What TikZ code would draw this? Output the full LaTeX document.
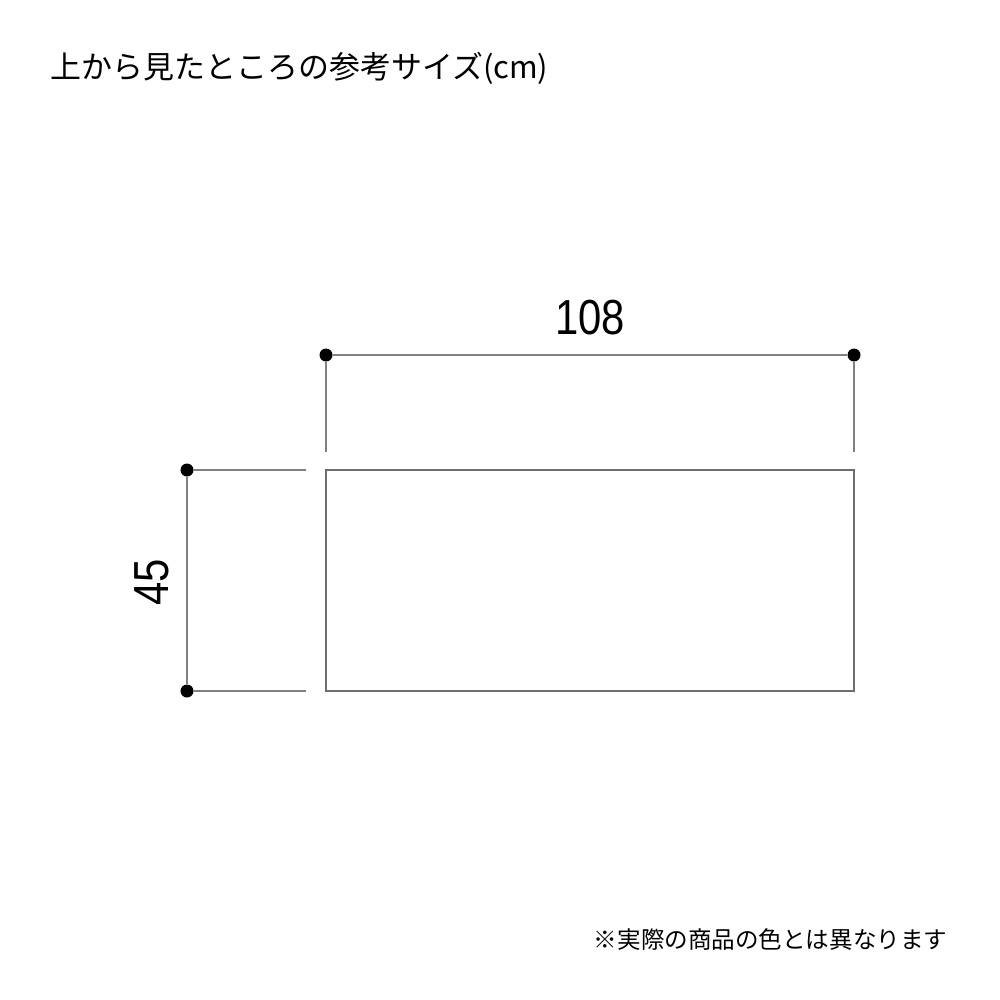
\documentclass[tikz,border=0pt]{standalone}
\usepackage{fontspec}
\setmainfont{Noto Sans CJK JP}
\newfontfamily\dimfont[FakeStretch=0.85]{Liberation Sans}
\usetikzlibrary{positioning}
\definecolor{dimline}{RGB}{128,128,128}
\definecolor{rimline}{RGB}{110,110,110}

\begin{document}
\begin{tikzpicture}[x=0.01cm,y=-0.01cm]
  \tikzstyle{dot}=[circle,fill=black,inner sep=0pt,minimum size=0.13cm]
  \tikzstyle{dim}=[draw=dimline,line width=0.45pt]
  \tikzstyle{rim}=[draw=rimline,line width=0.4pt]
  \tikzstyle{dimlabel}=[inner sep=0pt,font=\dimfont\fontsize{14pt}{14pt}\selectfont]

  \useasboundingbox (0,0) rectangle (1000,1000);

  \node[anchor=west,inner sep=0pt,font=\fontsize{8.8pt}{10pt}\selectfont] (title) at (50,68) {上から見たところの参考サイズ(cm)};

  % top view
  \coordinate (top_nw) at (326,470);
  \coordinate (top_se) at (854,691);
  \draw[rim] (top_nw) rectangle (top_se);

  % width
  \node[dot] (w_l) at (326,355) {};
  \node[dot] (w_r) at (854,355) {};
  \coordinate (w_l_end) at (326,452);
  \coordinate (w_r_end) at (854,452);
  \node[dimlabel] (w_txt) at (590,318) {108};

  % depth
  \node[dot] (d_t) at (187,470) {};
  \node[dot] (d_b) at (187,691) {};
  \coordinate (d_t_end) at (306,470);
  \coordinate (d_b_end) at (306,691);
  \node[dimlabel,rotate=90] (d_txt) at (152,582) {45};

  \path[dim]
  (w_l) edge (w_r)
        edge (w_l_end)
  (w_r) edge (w_r_end)
  (d_t) edge (d_b)
        edge (d_t_end)
  (d_b) edge (d_b_end);

  \node[anchor=east,inner sep=0pt,font=\fontsize{6.7pt}{8pt}\selectfont] (note) at (948,940) {※実際の商品の色とは異なります};
\end{tikzpicture}
\end{document}
